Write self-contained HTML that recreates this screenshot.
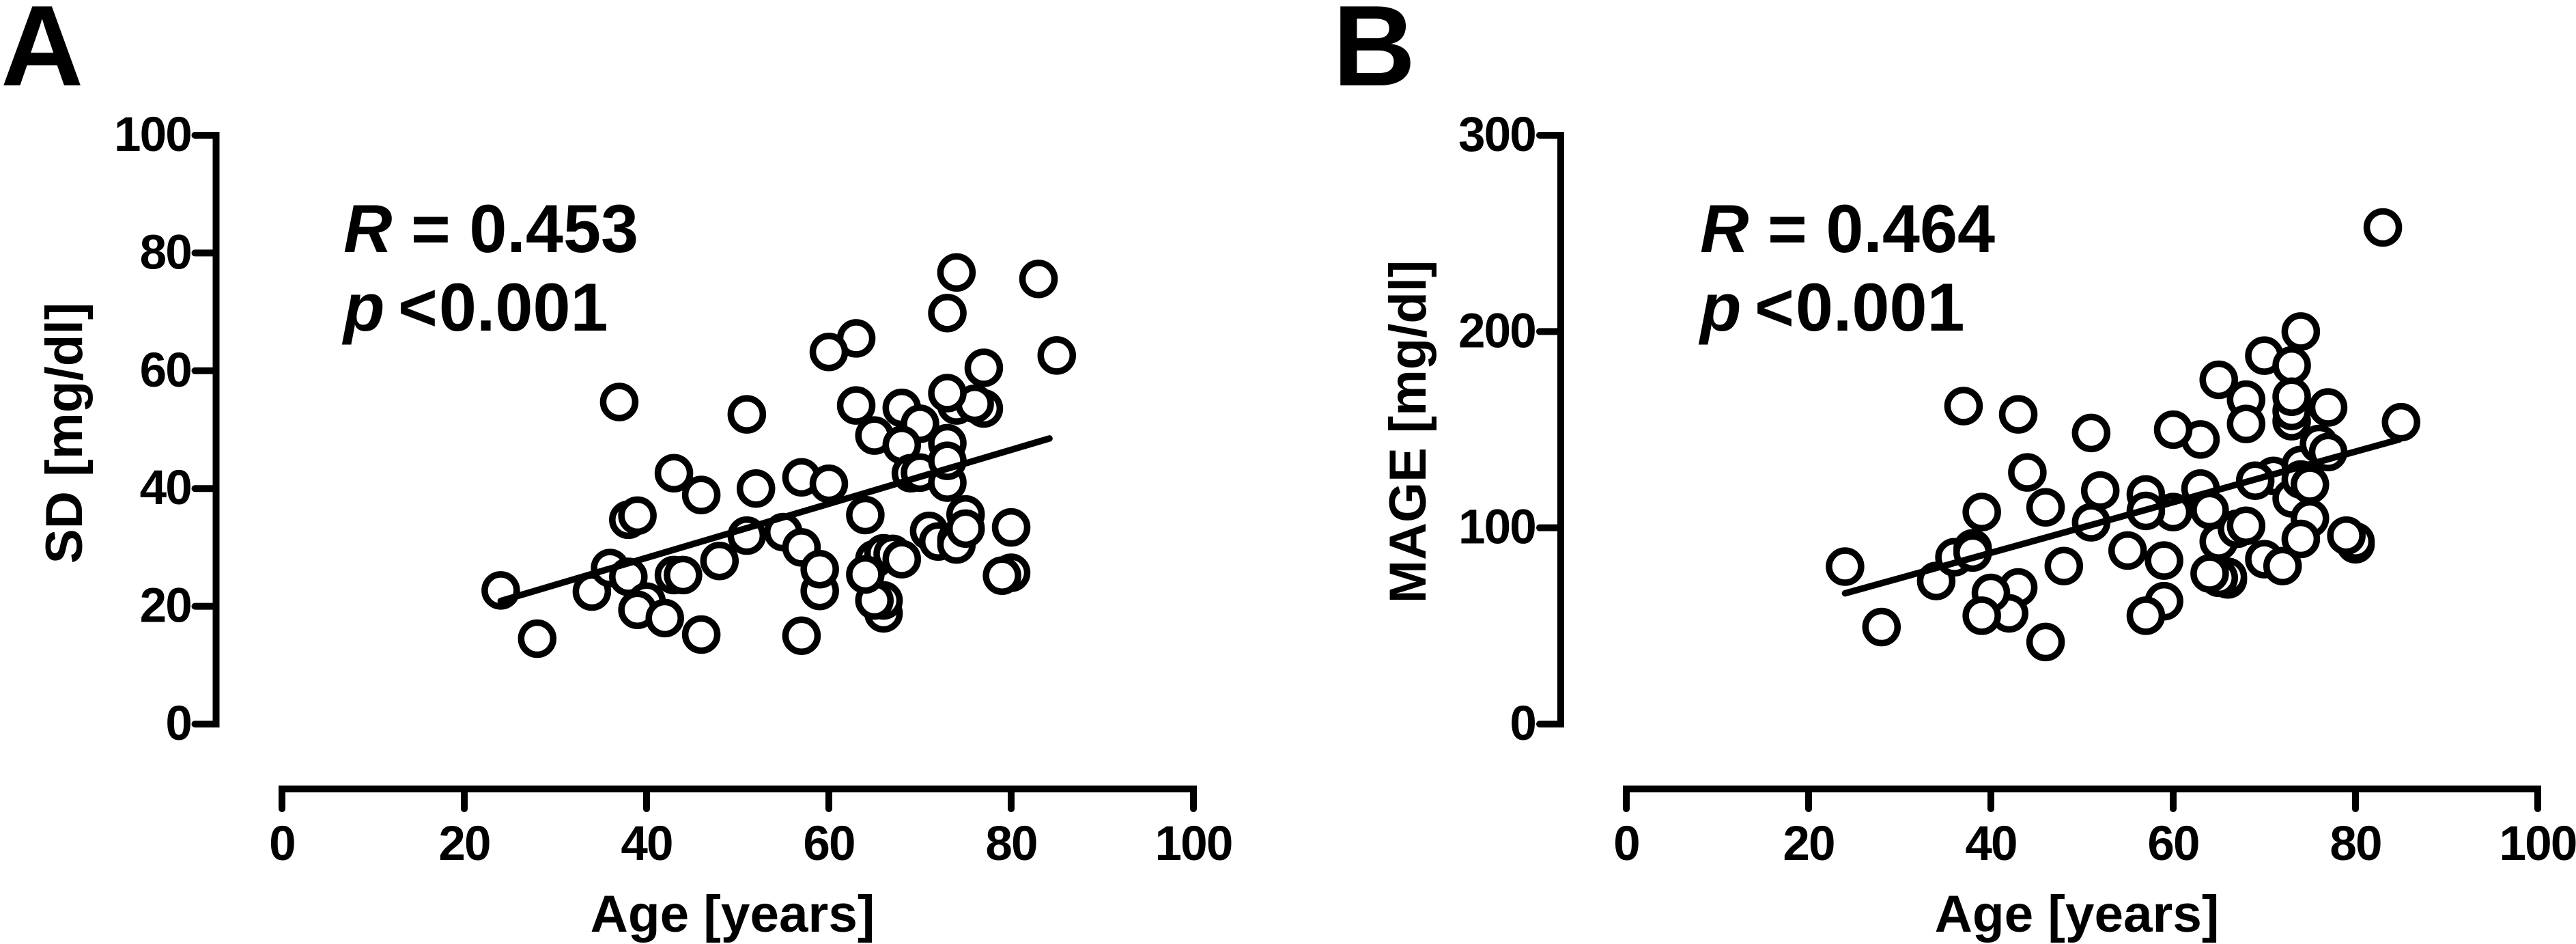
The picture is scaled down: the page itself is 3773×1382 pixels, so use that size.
<!DOCTYPE html>
<html lang="en">
<head>
<meta charset="utf-8">
<title>Age correlation with SD and MAGE</title>
<style>
html,body{margin:0;padding:0;background:#fff;width:3773px;height:1382px;overflow:hidden}
svg{display:block}
text{font-family:"Liberation Sans",Arial,sans-serif;font-weight:700;fill:#000}
</style>
</head>
<body>
<svg id="figure" xmlns="http://www.w3.org/2000/svg" width="3773" height="1382" viewBox="0 0 3773 1382">
  <rect x="0" y="0" width="3773" height="1382" fill="#fff"/>
  <text x="1" y="125" font-size="168">A</text>
  <text x="1952" y="125" font-size="168">B</text>
  <g id="panel-a"></g>
  <g id="panel-b"></g>
  <text font-size="76.5" text-anchor="middle" transform="translate(120 634) rotate(-90)">SD [mg/dl]</text>
  <text x="1073" y="1364" font-size="76.5" text-anchor="middle">Age [years]</text>
  <text x="503" y="369" font-size="99"><tspan font-style="italic">R</tspan> = 0.453</text>
  <text x="503" y="484" font-size="99"><tspan font-style="italic">p</tspan> <tspan dx="-8">&lt;</tspan><tspan dx="2">0.001</tspan></text>
  <text font-size="76" text-anchor="middle" transform="translate(2088 632) rotate(-90)">MAGE [mg/dl]</text>
  <text x="3042" y="1364" font-size="76.5" text-anchor="middle">Age [years]</text>
  <text x="2490" y="369" font-size="99"><tspan font-style="italic">R</tspan> = 0.464</text>
  <text x="2490" y="484" font-size="99"><tspan font-style="italic">p</tspan> <tspan dx="-8">&lt;</tspan><tspan dx="2">0.001</tspan></text>
</svg>
<script>
var xTicks = [0, 20, 40, 60, 80, 100];
var yTicksA = [0, 20, 40, 60, 80, 100];
var yTicksB = [0, 100, 200, 300];

var agesA = [24,28,34,36,37,38,38,39,40,39,42,43,43,44,46,46,48,51,51,52,55,57,57,57,59,59,63,60,63,60,66,66,65,65,66,67,64,64,68,68,70,65,68,69,70,71,72,74,77,76,73,73,73,73,73,74,74,74,75,75,77,80,80,79,83,85];
var sdValues = [22.7,14.5,22.5,26.5,54.7,34.7,25,35.4,20.8,19.4,18,42.6,25.3,25.3,38.9,15.2,27.7,52.6,32,40,32.6,41.9,30,15,22.6,26.3,65.5,63.2,54.1,40.8,18.8,21,21,28,29,28.9,25.4,35.5,28,53.7,51,49,47.4,42.6,42.7,32.8,31,54.1,53.6,54.4,69.8,56.2,47.7,41,44.7,76.7,31.3,30.5,35.6,33.2,60.5,33.4,25.7,25.2,75.6,62.6];
var fitAgesA = [24, 84.2];
var fitSd = [20.9, 48.5];

var agesB = [24,28,34,36,37,38,38,39,43,42,40,39,43,44,46,46,48,51,51,52,55,59,59,57,60,57,57,63,60,63,64,66,66,65,64,65,65,67,68,68,68,71,69,70,72,74,70,73,73,73,73,73,74,74,75,75,74,76,77,77,80,80,79,83,85];
var mageValues = [80.2,49.4,72.9,85,162,89.5,87.4,108,69.6,56.4,66.8,55.2,157.8,128.2,110.4,41.8,80.5,148.3,102.8,119,88.4,83.3,62.6,55.2,108,117,108.6,145,150,120,109,73.7,75,74.5,76.7,175.4,93,99.5,101,165.3,152.9,126.4,124,84,80.5,200,187.7,182.7,154.3,159.5,166.8,115,132,124.6,122,104.8,94.3,142.7,161.3,138.6,91.6,93,96,253,153.8];
var fitAgesB = [24, 84.8];
var fitMage = [66.6, 145];

var SVG_NS = 'http://www.w3.org/2000/svg';

function svgEl(tag, parent) {
  var el = document.createElementNS(SVG_NS, tag);
  parent.appendChild(el);
  return el;
}

function drawPanel(id, suffix, xLeft, yAxisX, yMax, yTicks, ages, values, fitX, fitY, yLabelX) {
  var group = document.getElementById(id);
  var xScale = function (v) { return xLeft + v * 13.35; };
  var yScale = function (v) { return 1060 - v * (862 / yMax); };

  // y axis
  var yLine = svgEl('line', group);
  
  
  yLine.setAttribute('x1', yAxisX);
  yLine.setAttribute('x2', yAxisX);
  yLine.setAttribute('y1', yScale(yMax) - 5);
  yLine.setAttribute('y2', yScale(0) + 5);
  yLine.setAttribute('stroke', '#000');
  yLine.setAttribute('stroke-width', 10);

  yTicks.forEach(function (t) {
    var tick = svgEl('line', group);
    
    
    tick.setAttribute('x1', yAxisX);
    tick.setAttribute('x2', yAxisX - 31);
    tick.setAttribute('y1', yScale(t));
    tick.setAttribute('y2', yScale(t));
    tick.setAttribute('stroke', '#000');
    tick.setAttribute('stroke-width', 10);
    tick.setAttribute('stroke-linecap', 'round');

    var label = svgEl('text', group);
    
    
    label.setAttribute('x', yLabelX);
    label.setAttribute('y', yScale(t) + 23);
    label.setAttribute('font-size', 71);
    label.setAttribute('letter-spacing', '-1.8');
    label.setAttribute('text-anchor', 'end');
    label.textContent = t;
  });

  // x axis
  var xLine = svgEl('line', group);
  
  
  xLine.setAttribute('x1', xScale(0) - 5);
  xLine.setAttribute('x2', xScale(100) + 5);
  xLine.setAttribute('y1', 1155);
  xLine.setAttribute('y2', 1155);
  xLine.setAttribute('stroke', '#000');
  xLine.setAttribute('stroke-width', 10);

  xTicks.forEach(function (t) {
    var tick = svgEl('line', group);
    
    
    tick.setAttribute('x1', xScale(t));
    tick.setAttribute('x2', xScale(t));
    tick.setAttribute('y1', 1155);
    tick.setAttribute('y2', 1184);
    tick.setAttribute('stroke', '#000');
    tick.setAttribute('stroke-width', 10);
    tick.setAttribute('stroke-linecap', 'round');

    var label = svgEl('text', group);
    
    
    label.setAttribute('x', xScale(t));
    label.setAttribute('y', 1259);
    label.setAttribute('font-size', 71);
    label.setAttribute('letter-spacing', '-1.8');
    label.setAttribute('text-anchor', 'middle');
    label.textContent = t;
  });

  // scatter points
  ages.forEach(function (age, i) {
    var point = svgEl('circle', group);
    
    
    point.setAttribute('cx', xScale(age));
    point.setAttribute('cy', yScale(values[i]));
    point.setAttribute('r', 23.5);
    point.setAttribute('fill', '#fff');
    point.setAttribute('stroke', '#000');
    point.setAttribute('stroke-width', 9.5);
  });

  // regression line
  var fit = svgEl('line', group);
  
  
  fit.setAttribute('x1', xScale(fitX[0]));
  fit.setAttribute('x2', xScale(fitX[1]));
  fit.setAttribute('y1', yScale(fitY[0]));
  fit.setAttribute('y2', yScale(fitY[1]));
  fit.setAttribute('stroke', '#000');
  fit.setAttribute('stroke-width', 9.5);
  fit.setAttribute('stroke-linecap', 'round');
}

drawPanel('panel-a', 'a', 413, 316.5, 100, yTicksA, agesA, sdValues, fitAgesA, fitSd, 280);
drawPanel('panel-b', 'b', 2382, 2286, 300, yTicksB, agesB, mageValues, fitAgesB, fitMage, 2249);
</script>
</body>
</html>
